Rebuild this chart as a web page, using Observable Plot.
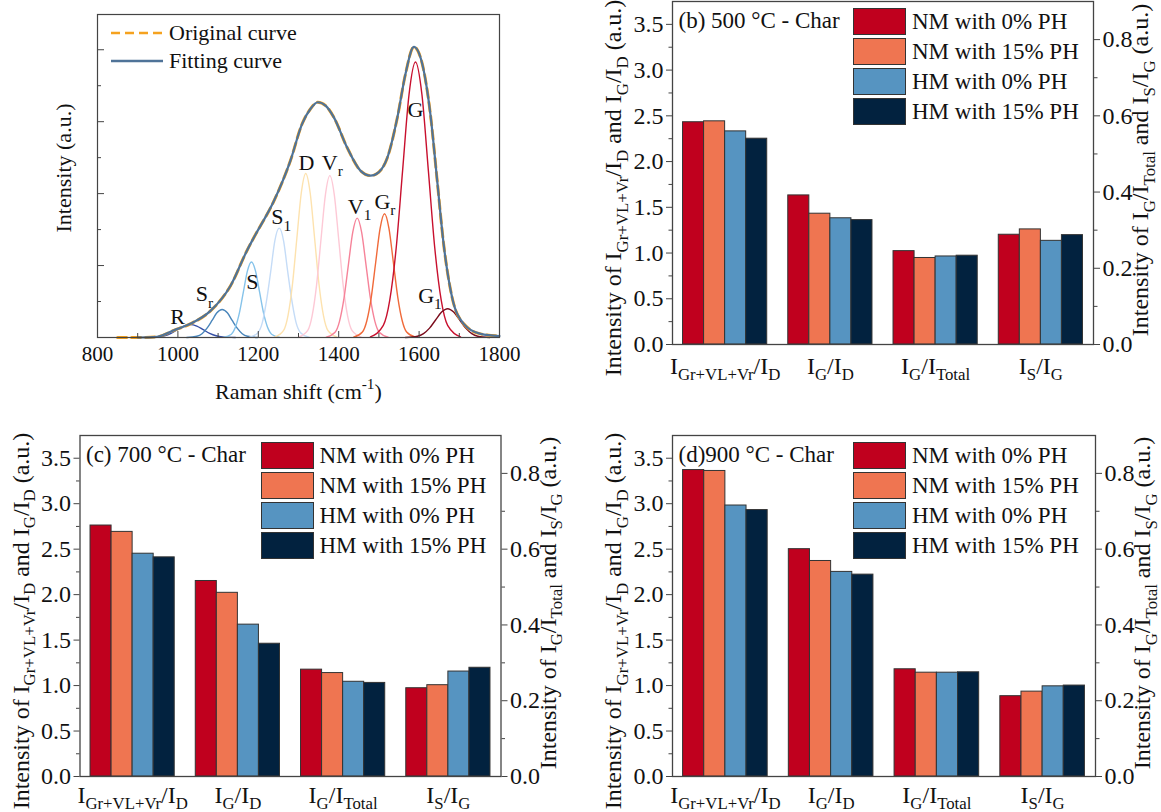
<!DOCTYPE html>
<html><head><meta charset="utf-8">
<script src="https://cdn.jsdelivr.net/npm/d3@7"></script>
<script src="https://cdn.jsdelivr.net/npm/@observablehq/plot@0.6"></script>
<style>
body{margin:0;background:#fff;}
#fig{position:relative;width:1161px;height:812px;overflow:hidden;font-family:"Liberation Serif","Times New Roman",serif;color:#111;background:#fff;}
.lg{position:absolute;white-space:nowrap;display:flex;align-items:center;line-height:1;}
.sw{box-sizing:border-box;width:53px;height:27px;border:1px solid #333;margin-right:6px;flex:none;}
</style></head><body><div id="fig"></div>
<script>
// ---------- Panel (a): Raman spectrum fit ----------
const ramanMajor = [800, 1000, 1200, 1400, 1600, 1800];
const ramanMinor = [900, 1100, 1300, 1500, 1700];
const intensityMajor = [1, 2, 3, 4];
const intensityMinor = [0.5, 1.5, 2.5, 3.5];

const originalShift = [850, 900, 948, 990, 1031, 1081, 1131, 1172, 1189, 1239, 1280, 1309, 1330, 1348, 1368, 1388, 1421, 1454, 1479, 1500, 1521, 1546, 1566, 1587, 1608, 1628, 1645, 1661, 1682, 1711, 1753, 1800];
const originalIntensity = [0.0, 0.0, 0.01, 0.10, 0.19, 0.37, 0.72, 1.21, 1.39, 1.90, 2.46, 2.97, 3.18, 3.27, 3.22, 3.06, 2.64, 2.32, 2.25, 2.30, 2.50, 3.06, 3.66, 4.04, 3.80, 3.11, 2.18, 1.30, 0.56, 0.19, 0.05, 0.02];
const fittedShift = [900, 948, 990, 1031, 1081, 1131, 1172, 1189, 1239, 1280, 1309, 1330, 1348, 1368, 1388, 1421, 1454, 1479, 1500, 1521, 1546, 1566, 1587, 1608, 1628, 1645, 1661, 1682, 1711, 1753, 1800];
const fittedIntensity = [0.0, 0.01, 0.10, 0.19, 0.37, 0.72, 1.21, 1.39, 1.90, 2.46, 2.97, 3.18, 3.27, 3.22, 3.06, 2.64, 2.32, 2.25, 2.30, 2.50, 3.06, 3.66, 4.04, 3.80, 3.11, 2.18, 1.30, 0.56, 0.19, 0.05, 0.02];

const peakR  = [[919,0],[951,0.008],[967,0.024],[983,0.058],[999,0.109],[1015,0.159],[1031,0.18],[1047,0.159],[1063,0.109],[1079,0.058],[1095,0.024],[1111,0.008],[1143,0]];
const peakSr = [[1022,0.001],[1047,0.017],[1060,0.053],[1072,0.127],[1085,0.237],[1097,0.344],[1110,0.39],[1123,0.344],[1135,0.237],[1148,0.127],[1160,0.053],[1173,0.017],[1198,0.001]];
const peakS  = [[1113,0.002],[1133,0.046],[1143,0.142],[1153,0.341],[1163,0.637],[1173,0.927],[1183,1.05],[1193,0.927],[1203,0.637],[1213,0.341],[1223,0.142],[1233,0.046],[1253,0.002]];
const peakS1 = [[1178,0.003],[1199,0.067],[1210,0.206],[1220,0.494],[1231,0.922],[1241,1.341],[1252,1.52],[1263,1.341],[1273,0.922],[1284,0.494],[1294,0.206],[1305,0.067],[1326,0.003]];
const peakD  = [[1240,0.005],[1263,0.100],[1274,0.308],[1285,0.740],[1296,1.383],[1307,2.012],[1318,2.28],[1329,2.012],[1340,1.383],[1351,0.740],[1362,0.308],[1373,0.100],[1396,0.005]];
const peakVr = [[1300,0.005],[1323,0.099],[1334,0.304],[1345,0.731],[1356,1.365],[1367,1.986],[1378,2.25],[1389,1.986],[1400,1.365],[1411,0.731],[1422,0.304],[1433,0.099],[1456,0.005]];
const peakV1 = [[1369,0.004],[1391,0.073],[1402,0.225],[1413,0.539],[1424,1.007],[1435,1.465],[1446,1.66],[1457,1.465],[1468,1.007],[1479,0.539],[1490,0.225],[1501,0.073],[1523,0.004]];
const peakGr = [[1437,0.004],[1459,0.076],[1470,0.233],[1481,0.558],[1492,1.043],[1503,1.518],[1514,1.72],[1525,1.518],[1536,1.043],[1547,0.558],[1558,0.233],[1569,0.076],[1591,0.004]];
const peakG  = [[1479,0.008],[1511,0.168],[1527,0.518],[1543,1.244],[1559,2.323],[1575,3.380],[1591,3.83],[1607,3.380],[1623,2.323],[1639,1.244],[1655,0.518],[1671,0.168],[1703,0.008]];
const peakG1 = [[1566,0.001],[1596,0.018],[1611,0.054],[1626,0.130],[1641,0.243],[1656,0.353],[1671,0.40],[1686,0.353],[1701,0.243],[1716,0.130],[1731,0.054],[1746,0.018],[1776,0.001]];

const peakNames = ["R", "S_{r}", "S", "S_{1}", "D", "V_{r}", "V_{1}", "G_{r}", "G", "G_{1}"];
const peakSeries = [peakR, peakSr, peakS, peakS1, peakD, peakVr, peakV1, peakGr, peakG, peakG1];
const peakColors = ["#3650a6", "#4a86bb", "#86c3ea", "#c5dcf7", "#fde2ae", "#fdc9d6", "#f68399", "#f06a3a", "#c8102e", "#7b0c1c"];
// annotation anchor points (data units) for peak names
const peakLabelShift = [999, 1066, 1185, 1257, 1320, 1384, 1452, 1515, 1591, 1627];
const peakLabelIntensity = [0.29, 0.60, 0.77, 1.67, 2.43, 2.43, 1.82, 1.88, 3.17, 0.58];

// ---------- Panels (b)-(d): intensity ratios ----------
const ratioLabels = ["I_{Gr+VL+Vr}/I_{D}", "I_{G}/I_{D}", "I_{G}/I_{Total}", "I_{S}/I_{G}"];
const ratioAxis = ["left", "left", "right", "right"];
const samples = ["NM with 0% PH", "NM with 15% PH", "HM with 0% PH", "HM with 15% PH"];
const sampleColors = ["#c0001e", "#ef7551", "#5694c1", "#02223f"];
// rows: ratio, columns: sample (left-axis ratios first two rows, right-axis last two)
const char500 = [[2.43, 2.44, 2.33, 2.25], [1.63, 1.43, 1.38, 1.36], [0.245, 0.227, 0.231, 0.233], [0.288, 0.302, 0.272, 0.287]];
const char700 = [[2.76, 2.69, 2.45, 2.41], [2.15, 2.02, 1.67, 1.46], [0.282, 0.273, 0.250, 0.247], [0.233, 0.241, 0.277, 0.287]];
const char900 = [[3.37, 3.36, 2.98, 2.93], [2.50, 2.37, 2.25, 2.22], [0.283, 0.274, 0.274, 0.275], [0.212, 0.224, 0.238, 0.240]];
const leftMajor = [0, 0.5, 1, 1.5, 2, 2.5, 3, 3.5];
const leftMinor = [0.25, 0.75, 1.25, 1.75, 2.25, 2.75, 3.25];
const rightMajor = [0, 0.2, 0.4, 0.6, 0.8];
const rightMinor = [0.1, 0.3, 0.5, 0.7];
const leftMax = 3.75, rightMax = 0.9;

const FONT = '"Liberation Serif", "Times New Roman", serif';
const fig = document.getElementById("fig");

function richify(svg) {
  svg.querySelectorAll("text").forEach(node => {
    const str = node.textContent;
    if (!/[_^]\{/.test(str)) return;
    const fs = parseFloat(getComputedStyle(node).fontSize) || 20;
    while (node.firstChild) node.removeChild(node.firstChild);
    const re = /([_^])\{([^}]*)\}|([^_^]+)/g;
    let m, shift = 0;
    while ((m = re.exec(str))) {
      const t = document.createElementNS("http://www.w3.org/2000/svg", "tspan");
      if (m[3] !== undefined) {
        t.textContent = m[3];
        if (shift) t.setAttribute("dy", -shift);
        shift = 0;
      } else {
        const s = m[1] === "_" ? 0.28 * fs : -0.42 * fs;
        t.textContent = m[2];
        t.setAttribute("font-size", (0.7 * fs).toFixed(1));
        t.setAttribute("dy", (s - shift).toFixed(2));
        shift = s;
      }
      node.appendChild(t);
    }
  });
}
function place(node, left, top) {
  node.style.position = "absolute";
  node.style.left = left + "px";
  node.style.top = top + "px";
  node.style.background = "transparent";
  fig.appendChild(node);
  richify(node);
}

// ---------- draw panel (a) ----------
{
  const W = 540, H = 410, ml = 97, mr = 41, mt = 14, mb = 73;
  const pw = W - ml - mr, ph = H - mt - mb;
  const peakRows = peakSeries.flatMap((pts, i) => pts.map(([x, y]) => ({peak: peakNames[i], x, y})));
  const origRows = originalShift.map((x, i) => ({x, y: originalIntensity[i]}));
  const fitRows = fittedShift.map((x, i) => ({x, y: fittedIntensity[i]}));
  const labelRows = peakNames.map((n, i) => ({n, x: peakLabelShift[i], y: peakLabelIntensity[i]}));
  const svg = Plot.plot({
    width: W, height: H, marginLeft: ml, marginRight: mr, marginTop: mt, marginBottom: mb,
    x: {domain: [800, 1800]},
    y: {domain: [0, 4.49], axis: null},
    color: {domain: peakNames, range: peakColors},
    style: {fontFamily: FONT, fontSize: "21px", color: "#111", background: "transparent"},
    marks: [
      Plot.line(peakRows, {x: "x", y: "y", z: "peak", stroke: "peak", strokeWidth: 1.4, curve: "monotone-x"}),
      Plot.line(origRows, {x: "x", y: "y", stroke: "#f5a21f", strokeWidth: 3, strokeDasharray: "9,5", curve: "monotone-x"}),
      Plot.line(fitRows, {x: "x", y: "y", stroke: "#4f7398", strokeWidth: 2.2, curve: "monotone-x"}),
      Plot.frame({stroke: "#444", strokeWidth: 1.2}),
      Plot.ruleX(ramanMajor, {x: d => d, insetTop: ph - 6, stroke: "#444"}),
      Plot.ruleX(ramanMinor, {x: d => d, insetTop: ph - 4, stroke: "#444"}),
      Plot.ruleY(intensityMajor, {y: d => d, insetRight: pw - 7, stroke: "#444"}),
      Plot.ruleY(intensityMinor, {y: d => d, insetRight: pw - 4, stroke: "#444"}),
      Plot.axisX({ticks: ramanMajor, tickSize: 0, tickPadding: 9, tickFormat: d => String(d), label: null}),
      Plot.text(labelRows, {x: "x", y: "y", text: "n", fontSize: 22, lineAnchor: "middle", fill: "#111"}),
      Plot.text(["Raman shift (cm^{-1})"], {frameAnchor: "bottom", textAnchor: "middle", lineAnchor: "bottom", dy: 61, fontSize: 22, fill: "#111"}),
      Plot.text(["Intensity (a.u.)"], {frameAnchor: "left", textAnchor: "middle", lineAnchor: "middle", rotate: -90, dx: -33.5, dy: -8, fontSize: 22, fill: "#111"})
    ]
  });
  place(svg, 0, 0);
  // legend for panel (a)
  const leg = document.createElement("div");
  leg.style.cssText = "position:absolute;left:111px;top:18px;font-size:22px;";
  leg.innerHTML =
    '<div class="lg" style="top:0;left:0;height:30px"><svg width="52" height="8"><line x1="0" y1="4" x2="52" y2="4" stroke="#f5a21f" stroke-width="2.6" stroke-dasharray="9,5"/></svg><span style="margin-left:6px">Original curve</span></div>' +
    '<div class="lg" style="top:28px;left:0;height:30px"><svg width="52" height="8"><line x1="0" y1="4" x2="52" y2="4" stroke="#4f7398" stroke-width="2.4"/></svg><span style="margin-left:6px">Fitting curve</span></div>';
  fig.appendChild(leg);
}

// ---------- bar panels ----------
function barPanel({values, title, left, top, W, H, ml, mr, mt, mb, labelDy}) {
  const k = leftMax / rightMax;
  const rows = [];
  ratioLabels.forEach((r, gi) => samples.forEach((s, si) => {
    const v = values[gi][si];
    rows.push({gi, si, sample: s, yv: ratioAxis[gi] === "left" ? v : v * k});
  }));
  const fmt = d3.format(".1f");
  const svg = Plot.plot({
    width: W, height: H, marginLeft: ml, marginRight: mr, marginTop: mt, marginBottom: mb,
    x: {domain: [-0.5, 19.5], axis: null},
    y: {domain: [0, leftMax]},
    color: {domain: samples, range: sampleColors},
    style: {fontFamily: FONT, fontSize: "24px", color: "#111", background: "transparent"},
    marks: [
      Plot.rect(rows, {x1: d => d.gi * 5 + d.si, x2: d => d.gi * 5 + d.si + 1, y1: 0, y2: "yv", fill: "sample", stroke: "#333", strokeWidth: 1}),
      Plot.frame({stroke: "#444", strokeWidth: 1.3}),
      Plot.axisY({ticks: leftMajor, tickSize: 6, tickPadding: 3, tickFormat: fmt, label: null, stroke: "#444"}),
      Plot.axisY({ticks: leftMinor, tickSize: 3.5, tickFormat: () => "", label: null, stroke: "#444"}),
      Plot.axisY({anchor: "right", ticks: rightMajor.map(v => v * k), tickSize: 6, tickPadding: 3, tickFormat: v => fmt(v / k), label: null, stroke: "#444"}),
      Plot.axisY({anchor: "right", ticks: rightMinor.map(v => v * k), tickSize: 3.5, tickFormat: () => "", label: null, stroke: "#444"}),
      Plot.text(ratioLabels, {x: (d, i) => i * 5 + 2, frameAnchor: "bottom", textAnchor: "middle", lineAnchor: "bottom", dy: labelDy, fontSize: 24, fill: "#111"}),
      Plot.text([title], {frameAnchor: "top-left", textAnchor: "start", lineAnchor: "bottom", dx: 6, dy: 26, fontSize: 23, fill: "#111"}),
      Plot.text(["Intensity of I_{Gr+VL+Vr}/I_{D} and I_{G}/I_{D} (a.u.)"], {frameAnchor: "left", textAnchor: "middle", lineAnchor: "middle", rotate: -90, dx: -59, dy: 15, fontSize: 24, fill: "#111"}),
      Plot.text(["Intensity of I_{G}/I_{Total} and I_{S}/I_{G} (a.u.)"], {frameAnchor: "right", textAnchor: "middle", lineAnchor: "middle", rotate: -90, dx: 47, dy: -3, fontSize: 24, fill: "#111"})
    ]
  });
  place(svg, left, top);
  const leg = document.createElement("div");
  leg.style.cssText = `position:absolute;left:${left + ml + 181}px;top:${top + mt + 6.5}px;font-size:23px;`;
  leg.innerHTML = samples.map((s, i) =>
    `<div class="lg" style="top:${i * 30}px;left:0;height:27px"><div class="sw" style="background:${sampleColors[i]}"></div><span>${s}</span></div>`).join("");
  fig.appendChild(leg);
}

barPanel({values: char500, title: "(b) 500 °C - Char", left: 580, top: 0, W: 581, H: 400, ml: 92, mr: 68, mt: 1, mb: 56, labelDy: 29});
barPanel({values: char700, title: "(c) 700 °C - Char", left: 0, top: 420, W: 580, H: 392, ml: 79.5, mr: 79.5, mt: 15, mb: 36, labelDy: 26});
barPanel({values: char900, title: "(d)900 °C - Char", left: 580, top: 420, W: 581, H: 392, ml: 92, mr: 66, mt: 15, mb: 36, labelDy: 26});
</script></body></html>
